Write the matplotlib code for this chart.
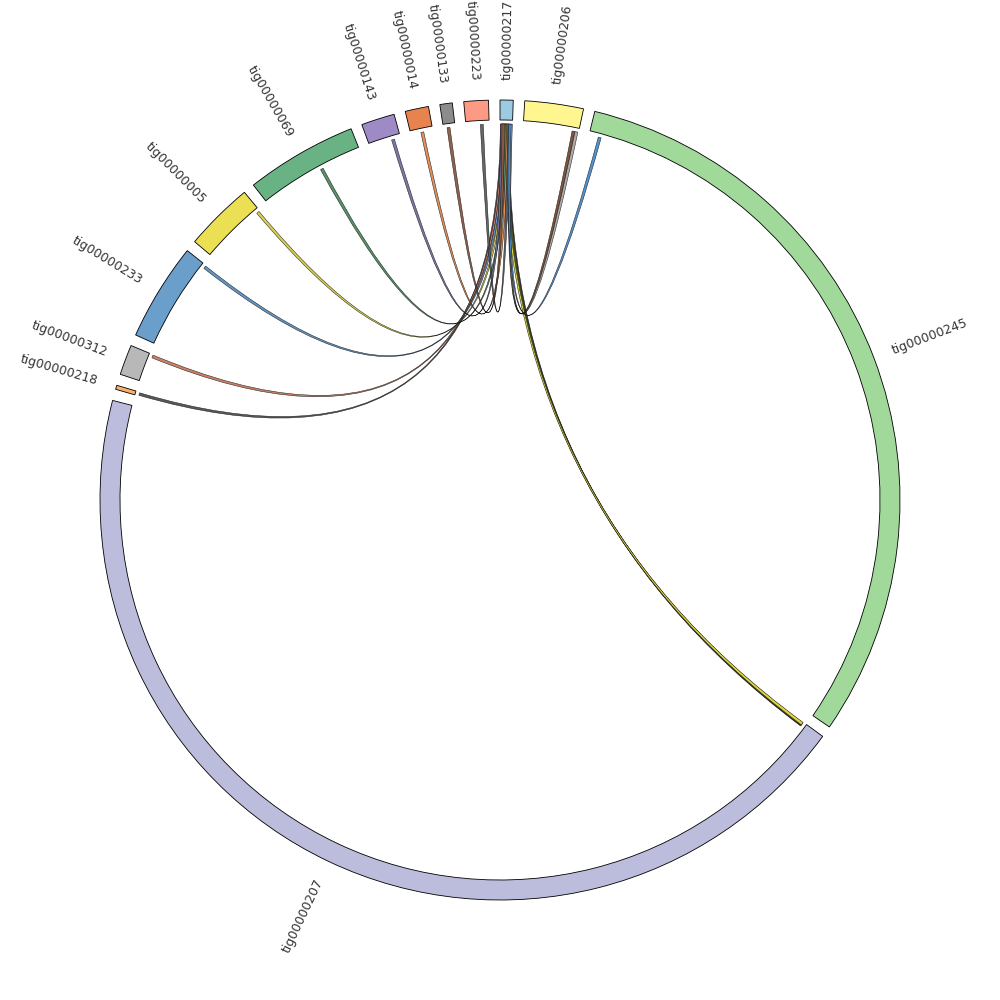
import numpy as np
import matplotlib.pyplot as plt
from matplotlib.patches import Wedge, PathPatch
from matplotlib.path import Path

# contigs, clockwise from the top; lengths in kb
contigs = ['tig00000217', 'tig00000206', 'tig00000245', 'tig00000207', 'tig00000218',
           'tig00000312', 'tig00000233', 'tig00000005', 'tig00000069', 'tig00000143',
           'tig00000014', 'tig00000133', 'tig00000223']
lengths_kb = [190, 850, 11080, 15810, 60, 440, 1420, 1005, 1620, 485, 340, 180, 355]
contig_colors = ['#9ecae1', '#fff68f', '#a1d99b', '#bcbddc', '#fdae6b', '#b8b8b8', '#6a9ecb',
                 '#ebe054', '#69b284', '#9e8ac4', '#e6834f', '#8c8c8c', '#fc9a83']

# links from each contig to tig00000217 (positions in kb on each contig)
link_src = ['tig00000207', 'tig00000207', 'tig00000207', 'tig00000207',
            'tig00000218', 'tig00000312', 'tig00000233', 'tig00000005', 'tig00000069',
            'tig00000143', 'tig00000014', 'tig00000133', 'tig00000223', 'tig00000206',
            'tig00000206', 'tig00000245']
link_src_start = [26, 19, 12, 5, 10, 390, 1365, 945, 955, 345, 155, 55, 220, 750, 795, 145]
link_src_end = [71, 64, 57, 50, 50, 435, 1410, 990, 1000, 390, 200, 100, 265, 795, 840, 190]
link_dst_start = [110, 90, 70, 50, 5, 20, 40, 60, 80, 10, 100, 30, 120, 140, 150, 130]
link_dst_end = [150, 130, 110, 90, 45, 60, 80, 100, 120, 50, 140, 70, 160, 180, 188, 170]
link_colors = ['#2a2a40', '#8a8a30', '#5a9a5a', '#e8d840',
               '#505050', '#c87a5e', '#5a8fc0', '#d6cc48', '#4e8c60', '#77709e', '#e08a52',
               '#8b5a44', '#5e5e5e', '#7a4a30', '#a8a8a8', '#4a8ccc']
link_dst = 'tig00000217'

R_OUT, R_IN, R_LINK, R_LABEL = 400, 380, 376, 420
GAP = 1.65  # degrees between contigs

scale = (360 - GAP * len(contigs)) / sum(lengths_kb)
starts = {}
angle = 0.0
for name, length in zip(contigs, lengths_kb):
    starts[name] = angle
    angle += length * scale + GAP


def to_angle(name, pos):
    return starts[name] + pos * scale


def xy(a, r):
    t = np.deg2rad(a)
    return r * np.sin(t), r * np.cos(t)


def ribbon(a1, a2, b1, b2):
    verts, codes = [], []
    for i, a in enumerate(np.linspace(a1, a2, 8)):
        verts.append(xy(a, R_LINK))
        codes.append(Path.MOVETO if i == 0 else Path.LINETO)
    verts += [(0, 0), xy(b1, R_LINK)]
    codes += [Path.CURVE3, Path.CURVE3]
    for a in np.linspace(b1, b2, 8)[1:]:
        verts.append(xy(a, R_LINK))
        codes.append(Path.LINETO)
    verts += [(0, 0), xy(a1, R_LINK), xy(a1, R_LINK)]
    codes += [Path.CURVE3, Path.CURVE3, Path.CLOSEPOLY]
    return Path(verts, codes)


fig = plt.figure(figsize=(10, 10), dpi=100)
ax = fig.add_axes([0, 0, 1, 1])
ax.set_xlim(-500, 500)
ax.set_ylim(-500, 500)
ax.set_aspect('equal')
ax.axis('off')

# links
for src, s0, s1, d0, d1, col in zip(link_src, link_src_start, link_src_end,
                                     link_dst_start, link_dst_end, link_colors):
    path = ribbon(to_angle(src, s0), to_angle(src, s1),
                  to_angle(link_dst, d0), to_angle(link_dst, d1))
    ax.add_patch(PathPatch(path, facecolor=col, edgecolor='#111111', lw=0.35, alpha=0.95))

# contig sectors and labels
for name, length, col in zip(contigs, lengths_kb, contig_colors):
    a0 = starts[name]
    a1 = a0 + length * scale
    ax.add_patch(Wedge((0, 0), R_OUT, 90 - a1, 90 - a0, width=R_OUT - R_IN,
                       facecolor=col, edgecolor='black', lw=0.6))
    mid = (a0 + a1) / 2
    x, y = xy(mid, R_LABEL)
    rot = 90 - mid
    if mid > 180:
        rot += 180
        ha = 'right'
    else:
        ha = 'left'
    ax.text(x, y, name, rotation=rot, rotation_mode='anchor', ha=ha, va='center',
            fontsize=9, color='#333333')

fig.savefig('out.png', dpi=100)
